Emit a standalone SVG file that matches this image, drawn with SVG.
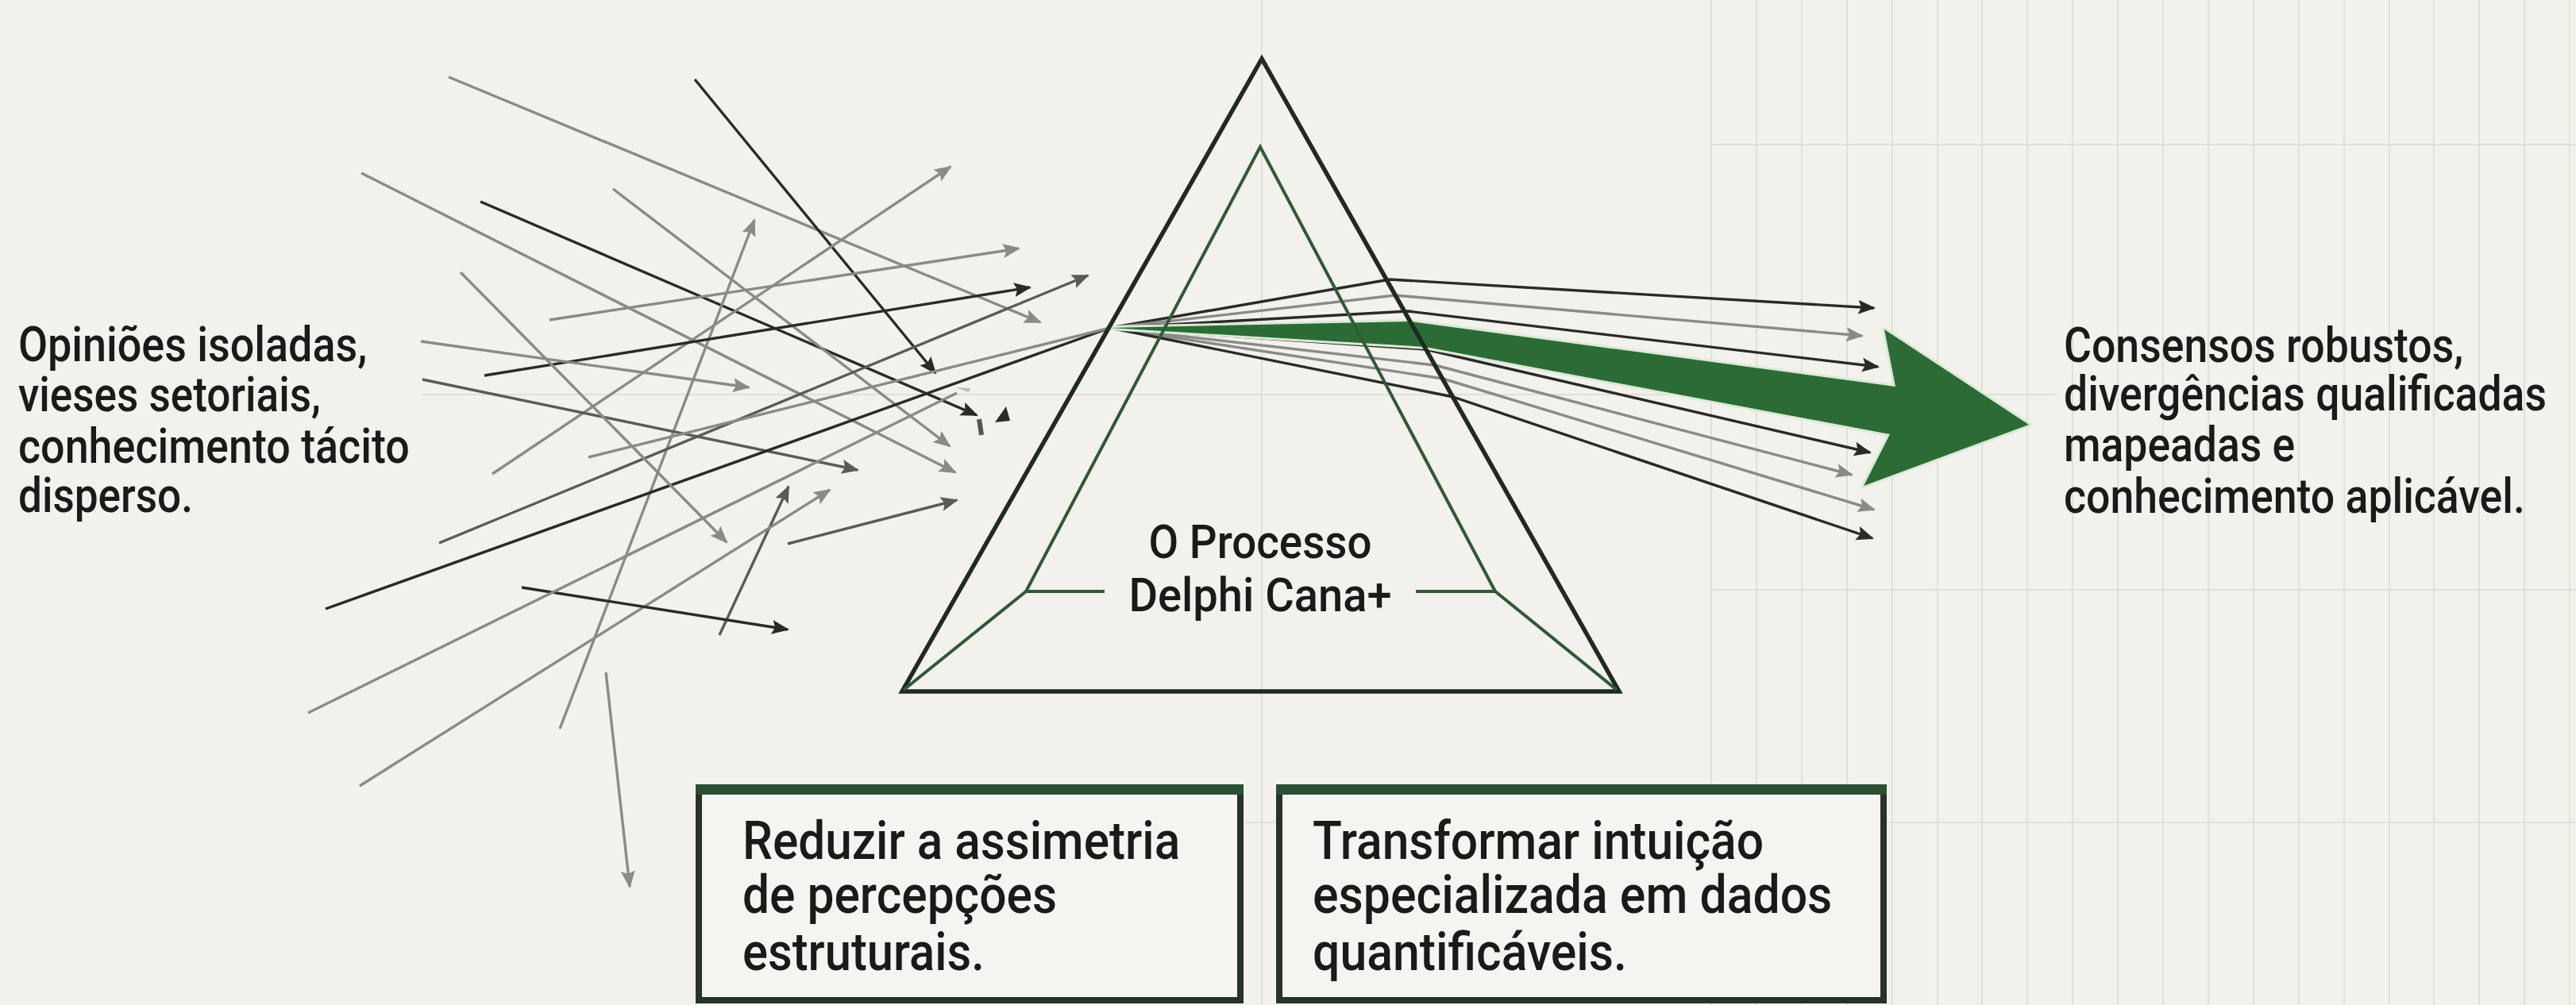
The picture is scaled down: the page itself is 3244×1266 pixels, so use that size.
<svg xmlns="http://www.w3.org/2000/svg" width="3244" height="1266" viewBox="0 0 3244 1266">
<defs>
<style>
.grid{stroke:#e1dfd9;stroke-width:2;fill:none}
.txt{font-family:Roboto,"Liberation Sans",Arial,sans-serif;fill:#1a1a1a;font-weight:500}
.ray{fill:none;stroke-width:3.4;stroke-linejoin:round}
.dk{stroke:#2a2a2a}
.md{stroke:#5a5a5a}
.lt{stroke:#8a8a8a}
.tri{fill:none;stroke:#1f2a22;stroke-width:5.5;stroke-linejoin:miter}
.itri{fill:none;stroke:#2f5a35;stroke-width:4;stroke-linejoin:miter}
.box{fill:#f5f4f0;stroke:#263328;stroke-width:8}
.bar{fill:#2b4f32}
</style>
<marker id="aDk" markerUnits="userSpaceOnUse" markerWidth="24" markerHeight="20" refX="20" refY="9" orient="auto"><path d="M0,0 L22,9 L0,18 L4,9 z" fill="#2a2a2a"/></marker>
<marker id="aMd" markerUnits="userSpaceOnUse" markerWidth="24" markerHeight="20" refX="20" refY="9" orient="auto"><path d="M0,0 L22,9 L0,18 L4,9 z" fill="#5a5a5a"/></marker>
<marker id="aLt" markerUnits="userSpaceOnUse" markerWidth="24" markerHeight="20" refX="20" refY="9" orient="auto"><path d="M0,0 L22,9 L0,18 L4,9 z" fill="#8a8a8a"/></marker>
</defs>
<rect width="3244" height="1266" fill="#f3f1ec"/>
<g id="grid">
<line class="grid" x1="1589" y1="0" x2="1589" y2="1266"/>
<line class="grid" x1="530" y1="497" x2="2590" y2="497"/>
<line class="grid" x1="2155" y1="182" x2="3244" y2="182"/>
<line class="grid" x1="2155" y1="743" x2="3244" y2="743"/>
<line class="grid" x1="1567" y1="1036" x2="3244" y2="1036"/>
<path class="grid" d="M2155,0V1266M2212,0V1266M2269,0V1266M2326,0V1266M2383,0V1266M2440,0V1266M2496,0V1266M2553,0V1266M2610,0V1266M2667,0V1266M2724,0V1266M2781,0V1266M2838,0V1266M2895,0V1266M2952,0V1266M3009,0V1266M3065,0V1266M3122,0V1266M3179,0V1266M3236,0V1266"/>
</g>
<g id="input-text" transform="translate(23,0) scale(0.8,1)">
<text class="txt" font-size="62" x="0" y="455" textLength="549" lengthAdjust="spacingAndGlyphs">Opiniões isoladas,</text>
<text class="txt" font-size="62" x="0" y="518" textLength="476" lengthAdjust="spacingAndGlyphs">vieses setoriais,</text>
<text class="txt" font-size="62" x="0" y="583" textLength="616" lengthAdjust="spacingAndGlyphs">conhecimento tácito</text>
<text class="txt" font-size="62" x="0" y="645" textLength="275" lengthAdjust="spacingAndGlyphs">disperso.</text>
</g>
<g id="connectors">
<line class="ray lt" x1="565" y1="97" x2="1310" y2="406" marker-end="url(#aLt)"/>
<line class="ray dk" x1="875" y1="100" x2="1178" y2="470" marker-end="url(#aDk)"/>
<line class="ray lt" x1="455" y1="218" x2="1203" y2="595" marker-end="url(#aLt)"/>
<line class="ray dk" x1="605" y1="254" x2="1230" y2="523" marker-end="url(#aDk)"/>
<line class="ray lt" x1="772" y1="238" x2="1196" y2="562" marker-end="url(#aLt)"/>
<line class="ray lt" x1="705" y1="918" x2="950" y2="277" marker-end="url(#aLt)"/>
<line class="ray lt" x1="620" y1="597" x2="1197" y2="210" marker-end="url(#aLt)"/>
<line class="ray lt" x1="692" y1="403" x2="1283" y2="313" marker-end="url(#aLt)"/>
<line class="ray dk" x1="610" y1="473" x2="1297" y2="362" marker-end="url(#aDk)"/>
<line class="ray lt" x1="530" y1="430" x2="943" y2="488" marker-end="url(#aLt)"/>
<line class="ray md" x1="532" y1="478" x2="1080" y2="592" marker-end="url(#aMd)"/>
<line class="ray md" x1="553" y1="684" x2="1370" y2="347" marker-end="url(#aMd)"/>
<line class="ray dk" x1="410" y1="767" x2="1398" y2="413" stroke-width="3.8"/>
<line class="ray lt" x1="741" y1="576" x2="1398" y2="413"/>
<line class="ray md" x1="992" y1="685" x2="1205" y2="630" marker-end="url(#aMd)"/>
<line class="ray lt" x1="580" y1="343" x2="915" y2="683" marker-end="url(#aLt)"/>
<line class="ray md" x1="906" y1="800" x2="993" y2="613" marker-end="url(#aMd)"/>
<line class="ray lt" x1="453" y1="990" x2="1045" y2="617" marker-end="url(#aLt)"/>
<line class="ray dk" x1="657" y1="740" x2="992" y2="793" marker-end="url(#aDk)"/>
<line class="ray lt" x1="763" y1="847" x2="793" y2="1117" marker-end="url(#aLt)"/>
<line class="ray lt" x1="388" y1="898" x2="1205" y2="495"/>
<path d="M1203,488 L1222,489 L1220,494 z" fill="#bdbdbd"/>
<path d="M1233,528 L1236,548" stroke="#555" stroke-width="6" fill="none"/>
<path d="M1253,532 L1267,512 L1272,530 z" fill="#2a2a2a"/>
<polyline class="ray dk" points="1398,413 1750,352 2360,388" marker-end="url(#aDk)"/>
<polyline class="ray lt" points="1398,413 1757,372 2345,423" marker-end="url(#aLt)"/>
<polyline class="ray dk" points="1398,413 1773,392 2365,462" marker-end="url(#aDk)"/>
<polyline class="ray dk" points="1398,413 1795,440 2355,570" marker-end="url(#aDk)"/>
<polyline class="ray lt" points="1398,413 1807,460 2332,598" marker-end="url(#aLt)"/>
<polyline class="ray lt" points="1398,413 1817,477 2360,642" marker-end="url(#aLt)"/>
<polyline class="ray dk" points="1398,413 1830,500 2358,678" marker-end="url(#aDk)"/>
</g>
<g id="green-beam">
<path d="M1398,413 L1776,405 L2387,487 L2373,415 L2555,535 L2347,612 L2380,547 L1795,437 Z" fill="#2c6b35" stroke="#d9ead6" stroke-width="6" stroke-linejoin="round" paint-order="stroke"/>
</g>
<g id="prism">
<polygon class="tri" points="1589,74 1136,871 2039,871"/>
<polyline class="itri" points="1391,745 1292,745 1587,185 1883,745 1783,745"/>
<line class="itri" x1="1292" y1="745" x2="1138" y2="869"/>
<line class="itri" x1="1883" y1="745" x2="2036" y2="869"/>
<g transform="translate(1587,0) scale(0.8,1)">
<text class="txt" font-size="60" x="0" y="703" text-anchor="middle" textLength="351" lengthAdjust="spacingAndGlyphs">O Processo</text>
<text class="txt" font-size="60" x="0" y="770" text-anchor="middle" textLength="414" lengthAdjust="spacingAndGlyphs">Delphi Cana+</text>
</g>
</g>
<g id="output-text" transform="translate(2599,0) scale(0.8,1)">
<text class="txt" font-size="62" x="0" y="456" textLength="629" lengthAdjust="spacingAndGlyphs">Consensos robustos,</text>
<text class="txt" font-size="62" x="0" y="517" textLength="760" lengthAdjust="spacingAndGlyphs">divergências qualificadas</text>
<text class="txt" font-size="62" x="0" y="581" textLength="364" lengthAdjust="spacingAndGlyphs">mapeadas e</text>
<text class="txt" font-size="62" x="0" y="646" textLength="726" lengthAdjust="spacingAndGlyphs">conhecimento aplicável.</text>
</g>
<g id="box1">
<rect class="box" x="880" y="992" width="682" height="268"/>
<rect class="bar" x="876" y="988" width="690" height="13"/>
<g transform="translate(935,0) scale(0.8,1)">
<text class="txt" font-size="66" x="0" y="1082" textLength="689" lengthAdjust="spacingAndGlyphs">Reduzir a assimetria</text>
<text class="txt" font-size="66" x="0" y="1150" textLength="495" lengthAdjust="spacingAndGlyphs">de percepções</text>
<text class="txt" font-size="66" x="0" y="1222" textLength="381" lengthAdjust="spacingAndGlyphs">estruturais.</text>
</g>
</g>
<g id="box2">
<rect class="box" x="1611" y="992" width="761" height="268"/>
<rect class="bar" x="1607" y="988" width="769" height="13"/>
<g transform="translate(1653,0) scale(0.8,1)">
<text class="txt" font-size="66" x="0" y="1082" textLength="710" lengthAdjust="spacingAndGlyphs">Transformar intuição</text>
<text class="txt" font-size="66" x="0" y="1150" textLength="818" lengthAdjust="spacingAndGlyphs">especializada em dados</text>
<text class="txt" font-size="66" x="0" y="1222" textLength="495" lengthAdjust="spacingAndGlyphs">quantificáveis.</text>
</g>
</g>
</svg>
